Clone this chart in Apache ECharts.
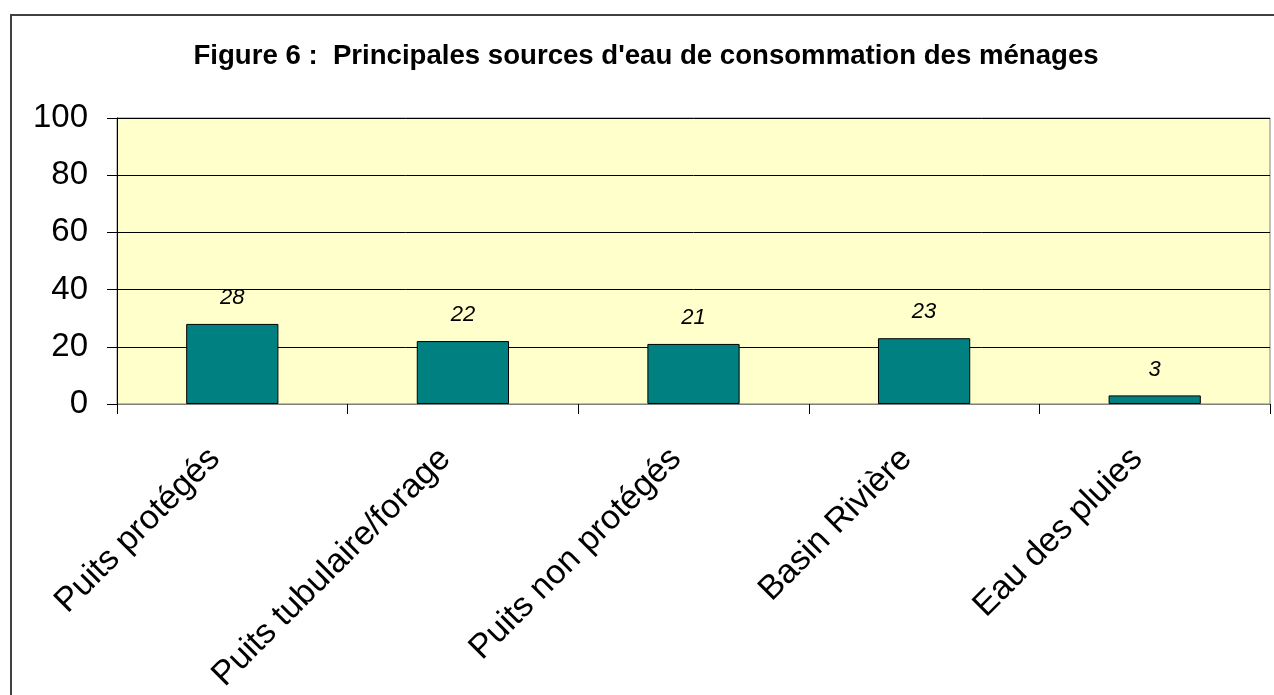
<!DOCTYPE html>
<html><head><meta charset="utf-8">
<script src="https://cdn.jsdelivr.net/npm/echarts@6/dist/echarts.min.js"></script>
<style>html,body{margin:0;padding:0;background:#fff}#c{width:1274px;height:695px}</style>
</head><body><div id="c"></div>
<script>
const titleText = "Figure 6 :  Principales sources d'eau de consommation des ménages";
const categories = ["Puits protégés", "Puits tubulaire/forage", "Puits non protégés", "Basin Rivière", "Eau des pluies"];
const values = [28, 22, 21, 23, 3];
const yMin = 0, yMax = 100, yStep = 20;

const FF = 'Liberation Sans, Arial, sans-serif';
const chart = echarts.init(document.getElementById('c'), null, {renderer: 'canvas'});
chart.setOption({
  animation: false,
  backgroundColor: '#fff',
  textStyle: {fontFamily: FF},
  title: {
    text: titleText, left: 641, textAlign: 'center', top: 37,
    textStyle: {fontSize: 27.6, fontWeight: 'bold', color: '#000', fontFamily: FF}
  },
  graphic: [{
    type: 'rect', shape: {x: 11, y: 15, width: 1300, height: 720},
    style: {fill: 'none', stroke: '#404040', lineWidth: 2}, z: 100
  }],
  grid: {left: 117, top: 118, right: 4, bottom: 290, show: true, backgroundColor: '#FFFFCC', borderColor: '#808080', borderWidth: 1, containLabel: false},
  xAxis: {
    type: 'category', data: categories,
    axisLine: {lineStyle: {color: '#808080', width: 1}},
    axisTick: {show: true, alignWithLabel: false, length: 10, lineStyle: {color: '#000'}},
    axisLabel: {rotate: 45, fontSize: 34, color: '#000', margin: 32, padding: [0, 25, 0, 0], interval: 0, fontFamily: FF}
  },
  yAxis: {
    type: 'value', min: yMin, max: yMax, interval: yStep,
    axisLine: {show: true, lineStyle: {color: '#000'}},
    axisTick: {show: true, inside: false, length: 10, lineStyle: {color: '#000'}},
    axisLabel: {fontSize: 33, color: '#000', margin: 29, fontFamily: FF},
    splitLine: {show: true, lineStyle: {color: '#000', width: 1}}
  },
  series: [{
    type: 'bar', data: values, barWidth: '40%',
    itemStyle: {color: '#008080', borderColor: '#000', borderWidth: 1},
    label: {show: true, position: 'top', distance: 15, fontSize: 22, fontStyle: 'italic', color: '#000', fontFamily: FF}
  }]
});
</script></body></html>
